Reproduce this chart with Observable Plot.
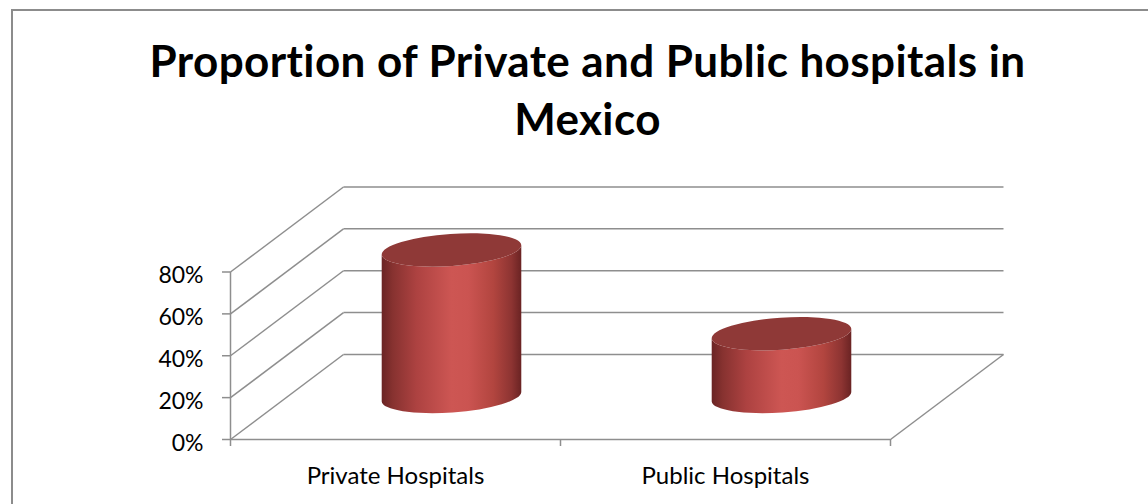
<!DOCTYPE html>
<html>
<head>
<meta charset="utf-8">
<script src="https://cdn.jsdelivr.net/npm/d3@7"></script>
<script src="https://cdn.jsdelivr.net/npm/@observablehq/plot@0.6"></script>
<style>
html, body { margin: 0; padding: 0; background: #fff; width: 1148px; height: 504px; overflow: hidden; }
#wrap { position: relative; width: 1148px; height: 504px; overflow: hidden; }
#title { position: absolute; left: 0; top: 31px; width: 1175px; text-align: center; font-family: Lato, sans-serif; font-weight: 700; font-size: 44px; letter-spacing: 0.4px; line-height: 58px; color: #000; white-space: nowrap; }
#chart { position: absolute; left: 0; top: 165px; }
#frame { position: absolute; left: 11px; top: 9px; width: 1300px; height: 700px; border-top: 2px solid #8c8c8c; border-left: 2px solid #8c8c8c; pointer-events: none; }
</style>
</head>
<body>
<div id="wrap">
  <div id="title">Proportion of Private and Public hospitals in<br>Mexico</div>
  <div id="chart"></div>
  <div id="frame"></div>
</div>
<script>
// ---- data ----
const categories = ["Private Hospitals", "Public Hospitals"];
const shares = [0.70, 0.30];
const yTicks = [0, 0.2, 0.4, 0.6, 0.8];
const xBoundaries = [0, 1, 2];

// ---- 3-D box geometry (data units) and styling ----
const DEPTH_X = 0.3424;   // depth of box along x (fraction of a category band)
const DEPTH_Y = 0.406;    // depth of box along y (share units)
const HALF = 0.212;       // cylinder half-width, fraction of a band
const RY = 16;            // ellipse minor radius (px)
const TILT = -4;          // ellipse tilt (deg)
const GRID = "#8e8e8e";

const data = categories.map((c, i) => ({category: c, i, value: shares[i]}));
const pct = d3.format(".0%");

function cylinders(index, scales) {
  const {x, y} = scales;
  const g = d3.create("svg:g");
  const defs = g.append("defs");
  const grad = defs.append("linearGradient").attr("id", "cylBody")
    .attr("x1", 0).attr("x2", 1).attr("y1", 0).attr("y2", 0);
  [[0, "#6a2424"], [0.08, "#873230"], [0.25, "#ad4241"], [0.5, "#cd5653"],
   [0.62, "#cb5451"], [0.8, "#b2453f"], [0.93, "#8d3432"], [1, "#6a2323"]]
    .forEach(([o, c]) => grad.append("stop").attr("offset", o).attr("stop-color", c));
  const rad = TILT * Math.PI / 180;
  for (const d of data) {
    const cx = x(d.i + 0.5 + DEPTH_X / 2);
    const rx = x(d.i + 0.5 + DEPTH_X / 2 + HALF) - cx;
    const yb = y(DEPTH_Y / 2);
    const yt = y(d.value + DEPTH_Y / 2);
    const ex = rx * Math.cos(rad), ey = rx * Math.sin(rad);
    g.append("path")
      .attr("d", `M${cx - ex},${yt - ey} L${cx - ex},${yb - ey} A${rx},${RY} ${TILT} 0 0 ${cx + ex},${yb + ey} L${cx + ex},${yt + ey} A${rx},${RY} ${TILT} 0 1 ${cx - ex},${yt - ey} Z`)
      .attr("fill", "url(#cylBody)");
    g.append("ellipse")
      .attr("cx", cx).attr("cy", yt).attr("rx", rx).attr("ry", RY)
      .attr("transform", `rotate(${TILT} ${cx} ${yt})`)
      .attr("fill", "#8f3937");
  }
  return g.node();
}

const chart = Plot.plot({
  width: 1148,
  height: 339,
  marginLeft: 230,
  marginRight: 258,
  marginTop: 106.5,
  marginBottom: 65,
  x: {domain: [0, 2], label: null},
  y: {domain: [0, 0.8], label: null},
  style: {fontFamily: "Lato, sans-serif", fontSize: "23px", color: "#000", background: "none", overflow: "visible"},
  marks: [
    // back wall gridlines
    Plot.link(yTicks, {x1: DEPTH_X, x2: 2 + DEPTH_X, y1: t => t + DEPTH_Y, y2: t => t + DEPTH_Y, stroke: GRID, strokeWidth: 1.5}),
    // left wall gridlines (diagonals)
    Plot.link(yTicks, {x1: 0, y1: t => t, x2: DEPTH_X, y2: t => t + DEPTH_Y, stroke: GRID, strokeWidth: 1.5}),
    // right floor edge
    Plot.link([0], {x1: 2, y1: 0, x2: 2 + DEPTH_X, y2: DEPTH_Y, stroke: GRID, strokeWidth: 1.5}),
    // front floor edge
    Plot.ruleY([0], {stroke: GRID, strokeWidth: 1.5}),
    // front vertical axis
    Plot.ruleX([0], {y1: 0, y2: 0.8, stroke: GRID, strokeWidth: 1.5}),
    // y tick marks
    Plot.axisY({ticks: yTicks, tickSize: 8, tickFormat: () => "", stroke: GRID, strokeWidth: 1.5, label: null}),
    // y tick labels
    Plot.axisY({ticks: yTicks, tickSize: 0, tickPadding: 27, dy: 4, tickFormat: pct, fontSize: 23, label: null}),
    // x boundary ticks
    Plot.axisX({ticks: xBoundaries, tickSize: 7, tickFormat: () => "", stroke: GRID, strokeWidth: 1.5, label: null}),
    // x category labels
    Plot.axisX({ticks: [0.5, 1.5], tickSize: 0, tickPadding: 27, tickFormat: v => categories[Math.floor(v)], fontSize: 24, label: null}),
    // cylinders
    cylinders
  ]
});
document.getElementById("chart").appendChild(chart);
</script>
</body>
</html>
